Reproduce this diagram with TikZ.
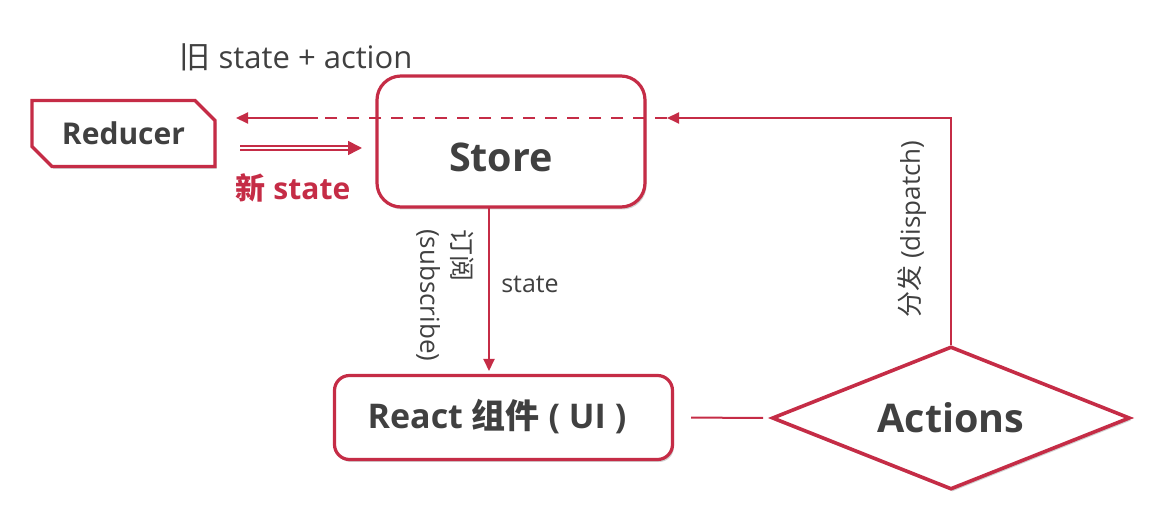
\documentclass[tikz,border=0pt]{standalone}
\usepackage{fontspec}
\setmainfont{Open Sans}
\newfontfamily\cjk{Noto Sans CJK SC}
\usetikzlibrary{shapes.geometric,shapes.misc,arrows.meta,shadows}
\definecolor{redc}{RGB}{197,44,70}
\definecolor{txt}{RGB}{64,64,64}
\tikzset{
  box/.style={draw=redc, line width=3.2pt, fill=white, text=txt,
    drop shadow={shadow xshift=1.5pt, shadow yshift=-2.5pt, opacity=0.18, fill=black}},
  conn/.style={draw=redc, line width=2pt},
  tip/.style={-{Triangle[length=12pt,width=11pt]}},
  lbl/.style={text=txt, inner sep=0pt},
}
\begin{document}
\begin{tikzpicture}[x=1pt,y=-1pt]
\useasboundingbox (0,0) rectangle (1160,510);
% nodes
\node[box, chamfered rectangle, chamfered rectangle corners={north east,south west},
  chamfered rectangle xsep=10pt, chamfered rectangle ysep=10pt,
  minimum width=183pt, minimum height=66pt, inner sep=0pt,
  font=\bfseries\fontsize{30}{36}\selectfont] (reducer) at (123.5,133.5) {Reducer};
\node[box, rounded corners=24pt, minimum width=268pt, minimum height=131pt] (store) at (511,141.5) {};
\node[lbl, font=\bfseries\fontsize{39.5}{46}\selectfont] (storetext) at (501,157) {Store};
\node[box, rounded corners=15pt, minimum width=338pt, minimum height=84pt] (react) at (503.5,417.5) {};
\node[lbl, font=\bfseries\fontsize{34}{40}\selectfont] (reacttext) at (497,417) {React {\cjk\bfseries 组件} ( UI )};
\node[box, diamond, aspect=2.5, line width=3.6pt, minimum width=358pt, minimum height=143pt,
  inner sep=2pt, font=\bfseries\fontsize{39.5}{46}\selectfont] (actions) at (951,418) {Actions};
% labels
\node[lbl, font=\fontsize{31}{36}\selectfont] (old) at (296,57) {{\cjk 旧} state + action};
\node[lbl, text=redc, font=\bfseries\fontsize{30}{36}\selectfont] (new) at (293,188) {{\cjk\bfseries 新} state};
\node[lbl, font=\fontsize{25}{30}\selectfont] (st) at (530,284) {state};
\node[lbl, rotate=-90, anchor=west, align=left, font=\fontsize{26}{32}\selectfont] (sub) at (445,229) {{\cjk 订阅}\\(subscribe)};
\node[lbl, rotate=90, font=\fontsize{26}{30}\selectfont] (disp) at (912,229) {{\cjk 分发} (dispatch)};
% connectors
\coordinate (d1) at (667,118);
\coordinate (d2) at (318,118);
\coordinate (r1) at (215,118);
\draw[conn, tip] (actions.north) |- (d1);
\draw[conn, dashed, dash pattern=on 12pt off 10pt] (d1) -- (d2);
\draw[conn, tip, shorten >=21pt] (d2) -- (r1);
\coordinate (a1) at (215,148);
\coordinate (a2) at (378,148);
\draw[redc, line width=1.6pt, double, double distance=2pt, shorten <=25pt, shorten >=16pt,
  -{Triangle[length=14pt,width=14pt]}] (a1) -- (a2);
\coordinate (s1) at (489,208);
\coordinate (s2) at (489,375);
\draw[conn, tip, shorten >=4pt] (s1) -- (s2);
\draw[conn, shorten <=17pt, shorten >=7pt] (react.east) -- (actions.west);
\end{tikzpicture}
\end{document}
